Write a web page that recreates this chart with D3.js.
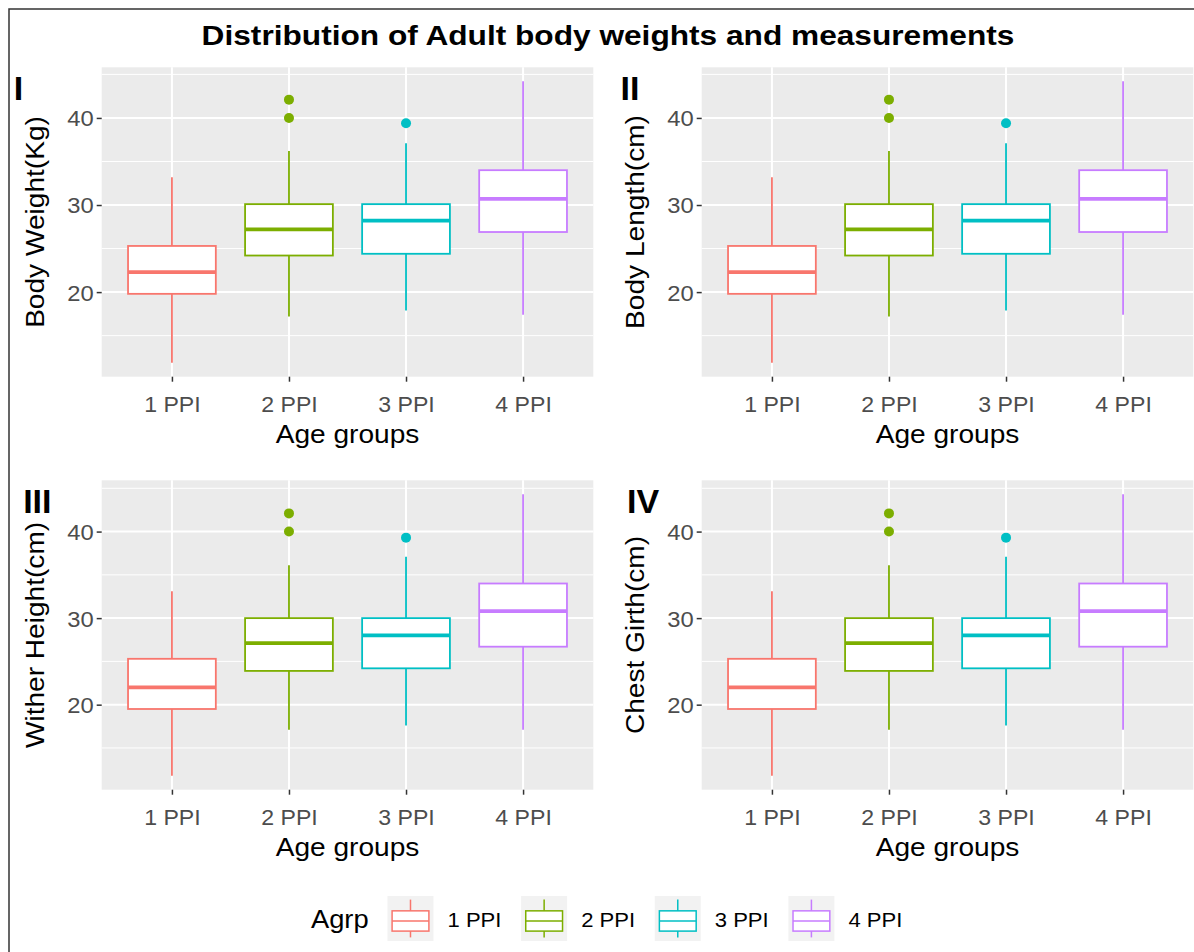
<!DOCTYPE html>
<html lang="en">
<head>
<meta charset="UTF-8">
<title>Distribution of Adult body weights and measurements</title>
<script src="https://d3js.org/d3.v7.min.js"></script>
<style>
  body { margin: 0; background: #fff; }
  svg { display: block; font-family: "Liberation Sans", Arial, sans-serif; }
  .panel-bg { fill: #ebebeb; }
  .grid-major { stroke: #fff; stroke-width: 2; }
  .grid-minor { stroke: #fff; stroke-width: 1; }
  .axis path.domain { display: none; }
  .axis line { stroke: #333; stroke-width: 1.5; }
  .axis text { fill: #4d4d4d; font-size: 22px; font-family: "Liberation Sans", Arial, sans-serif; }
  .axis-title { fill: #000; font-size: 26px; }
  .panel-label { fill: #000; font-size: 34px; font-weight: bold; }
  .title { fill: #000; font-size: 28px; font-weight: bold; }
  .legend-title { fill: #000; font-size: 26px; }
  .legend-label { fill: #000; font-size: 21px; }
</style>
</head>
<body>
<svg id="chart" width="1194" height="952"></svg>
<script>
// categories and colours
const groups = ["1 PPI", "2 PPI", "3 PPI", "4 PPI"];
const groupColors = ["#F8766D", "#7CAE00", "#00BFC4", "#C77CFF"];

// [lower whisker, Q1, median, Q3, upper whisker] per age group
const weightStats = [[11.9, 19.8, 22.3, 25.3, 33.2], [17.2, 24.2, 27.2, 30.1, 36.2], [17.9, 24.4, 28.2, 30.1, 37.1], [17.4, 26.9, 30.7, 34.0, 44.2]];
const weightOutliers = [[], [40.0, 42.1], [39.4], []];

const lengthStats = [[11.9, 19.8, 22.3, 25.3, 33.2], [17.2, 24.2, 27.2, 30.1, 36.2], [17.9, 24.4, 28.2, 30.1, 37.1], [17.4, 26.9, 30.7, 34.0, 44.2]];
const lengthOutliers = [[], [40.0, 42.1], [39.4], []];

const witherStats = [[11.8, 19.5, 22.0, 25.3, 33.1], [17.1, 23.9, 27.1, 30.0, 36.1], [17.6, 24.2, 28.0, 30.0, 37.1], [17.1, 26.7, 30.8, 34.0, 44.3]];
const witherOutliers = [[], [40.0, 42.1], [39.3], []];

const girthStats = [[11.8, 19.5, 22.0, 25.3, 33.1], [17.1, 23.9, 27.1, 30.0, 36.1], [17.6, 24.2, 28.0, 30.0, 37.1], [17.1, 26.7, 30.8, 34.0, 44.3]];
const girthOutliers = [[], [40.0, 42.1], [39.3], []];

const yTicks = [20, 30, 40];
const yMinorTicks = [15, 25, 35, 45];

const panelLabels = ["I", "II", "III", "IV"];
const yTitles = ["Body Weight(Kg)", "Body Length(cm)", "Wither Height(cm)", "Chest Girth(cm)"];
const xTitle = "Age groups";
const legendTitle = "Agrp";
const chartTitle = "Distribution of Adult body weights and measurements";

const panels = [
  {label: panelLabels[0], yTitle: yTitles[0], stats: weightStats, outliers: weightOutliers, col: 0, row: 0},
  {label: panelLabels[1], yTitle: yTitles[1], stats: lengthStats, outliers: lengthOutliers, col: 1, row: 0},
  {label: panelLabels[2], yTitle: yTitles[2], stats: witherStats, outliers: witherOutliers, col: 0, row: 1},
  {label: panelLabels[3], yTitle: yTitles[3], stats: girthStats, outliers: girthOutliers, col: 1, row: 1}
];

// layout
const colStart = [9, 611];
const colShift = [0, 600];
const rowShift = [0, 413];
const plotLeft = 101.7, plotTop = 67.3, plotW = 491.6, plotH = 309.4;

const svg = d3.select("#chart");
svg.append("rect").attr("width", 1194).attr("height", 952).attr("fill", "#fff");
svg.append("rect")
  .attr("x", 9).attr("y", 9).attr("width", 1300).attr("height", 1100)
  .attr("fill", "none").attr("stroke", "#333").attr("stroke-width", 1.5);

// the reference text is drawn a bit wide, so widen glyphs to match
function stretch(sel, k) {
  sel.each(function () {
    const len = this.getComputedTextLength();
    this.setAttribute("textLength", len * k);
    this.setAttribute("lengthAdjust", "spacingAndGlyphs");
  });
}

svg.append("text")
  .attr("class", "title")
  .attr("x", 608).attr("y", 45)
  .attr("text-anchor", "middle")
  .text(chartTitle)
  .call(stretch, 1.13);

panels.forEach(p => {
  const ox = plotLeft + colShift[p.col];
  const oy = plotTop + rowShift[p.row];
  const g = svg.append("g").attr("transform", `translate(${ox},${oy})`);

  const allVals = p.stats.flat().concat(p.outliers.flat());
  const lo = d3.min(allVals), hi = d3.max(allVals), pad = (hi - lo) * 0.05;

  const x = d3.scalePoint().domain(groups).range([0, plotW]).padding(0.6);
  const y = d3.scaleLinear().domain([lo - pad, hi + pad]).range([plotH, 0]);
  const boxW = x.step() * 0.75;

  g.append("rect").attr("class", "panel-bg").attr("width", plotW).attr("height", plotH);

  g.selectAll(".grid-minor")
    .data(yMinorTicks.filter(v => v > y.domain()[0] && v < y.domain()[1]))
    .join("line").attr("class", "grid-minor")
    .attr("x1", 0).attr("x2", plotW)
    .attr("y1", d => y(d)).attr("y2", d => y(d));

  g.selectAll(".grid-h")
    .data(yTicks)
    .join("line").attr("class", "grid-major grid-h")
    .attr("x1", 0).attr("x2", plotW)
    .attr("y1", d => y(d)).attr("y2", d => y(d));

  g.selectAll(".grid-v")
    .data(groups)
    .join("line").attr("class", "grid-major grid-v")
    .attr("x1", d => x(d)).attr("x2", d => x(d))
    .attr("y1", 0).attr("y2", plotH);

  // axes
  g.append("g").attr("class", "axis")
    .call(d3.axisLeft(y).tickValues(yTicks).tickSize(5).tickPadding(3))
    .selectAll("text").attr("dy", "0.36em").call(stretch, 1.08);

  g.append("g").attr("class", "axis")
    .attr("transform", `translate(0,${plotH})`)
    .call(d3.axisBottom(x).tickSize(5).tickPadding(0))
    .selectAll("text").attr("y", 35).attr("dy", null).call(stretch, 1.05);

  // boxes
  const data = groups.map((gName, i) => ({
    group: gName, color: groupColors[i],
    lw: p.stats[i][0], q1: p.stats[i][1], med: p.stats[i][2], q3: p.stats[i][3], uw: p.stats[i][4],
    out: p.outliers[i]
  }));

  const box = g.selectAll(".box").data(data).join("g").attr("class", "box");

  box.append("line")
    .attr("x1", d => x(d.group)).attr("x2", d => x(d.group))
    .attr("y1", d => y(d.uw)).attr("y2", d => y(d.q3))
    .attr("stroke", d => d.color).attr("stroke-width", 1.8);
  box.append("line")
    .attr("x1", d => x(d.group)).attr("x2", d => x(d.group))
    .attr("y1", d => y(d.q1)).attr("y2", d => y(d.lw))
    .attr("stroke", d => d.color).attr("stroke-width", 1.8);
  box.append("rect")
    .attr("x", d => x(d.group) - boxW / 2).attr("width", boxW)
    .attr("y", d => y(d.q3)).attr("height", d => y(d.q1) - y(d.q3))
    .attr("fill", "#fff").attr("stroke", d => d.color).attr("stroke-width", 1.8);
  box.append("line")
    .attr("x1", d => x(d.group) - boxW / 2).attr("x2", d => x(d.group) + boxW / 2)
    .attr("y1", d => y(d.med)).attr("y2", d => y(d.med))
    .attr("stroke", d => d.color).attr("stroke-width", 3.8);
  box.selectAll("circle")
    .data(d => d.out.map(v => ({v, group: d.group, color: d.color})))
    .join("circle")
    .attr("cx", d => x(d.group)).attr("cy", d => y(d.v)).attr("r", 5)
    .attr("fill", d => d.color);

  // titles
  g.append("text").attr("class", "axis-title")
    .attr("x", plotW / 2).attr("y", plotH + 66.6)
    .attr("text-anchor", "middle")
    .text(xTitle).call(stretch, 1.08);

  g.append("text").attr("class", "axis-title")
    .attr("transform", `translate(-57.7,${plotH / 2}) rotate(-90)`)
    .attr("text-anchor", "middle")
    .text(p.yTitle).call(stretch, 1.08);

  const lab = svg.append("text").attr("class", "panel-label")
    .attr("y", 100 + rowShift[p.row])
    .text(p.label);
  lab.attr("x", colStart[p.col] + lab.node().getComputedTextLength() / 2);
});

// legend
const legend = svg.append("g");
const keyW = 46, keyH = 45, keyTop = 896;
let cursor = 0;
const lt = legend.append("text").attr("class", "legend-title")
  .attr("x", cursor).attr("y", keyTop + keyH / 2 + 9)
  .text(legendTitle).call(stretch, 1.05);
cursor += lt.node().getComputedTextLength() * 1.05 + 16;

groups.forEach((gName, i) => {
  const k = legend.append("g").attr("transform", `translate(${cursor},${keyTop})`);
  k.append("rect").attr("width", keyW).attr("height", keyH).attr("fill", "#f2f2f2");
  k.append("line").attr("x1", keyW / 2).attr("x2", keyW / 2).attr("y1", keyH * 0.08).attr("y2", keyH * 0.92)
    .attr("stroke", groupColors[i]).attr("stroke-width", 1.5);
  k.append("rect").attr("x", keyW * 0.1).attr("width", keyW * 0.8)
    .attr("y", keyH * 0.33).attr("height", keyH * 0.45)
    .attr("fill", "#fff").attr("stroke", groupColors[i]).attr("stroke-width", 1.5);
  k.append("line").attr("x1", keyW * 0.1).attr("x2", keyW * 0.9).attr("y1", keyH * 0.555).attr("y2", keyH * 0.555)
    .attr("stroke", groupColors[i]).attr("stroke-width", 1.5);
  cursor += keyW + 14;
  const t = legend.append("text").attr("class", "legend-label")
    .attr("x", cursor).attr("y", keyTop + keyH / 2 + 8)
    .text(gName).call(stretch, 1.05);
  cursor += t.node().getComputedTextLength() * 1.05 + (i < groups.length - 1 ? 17 : 0);
});
legend.attr("transform", `translate(${608 - cursor / 2},0)`);
</script>
</body>
</html>
